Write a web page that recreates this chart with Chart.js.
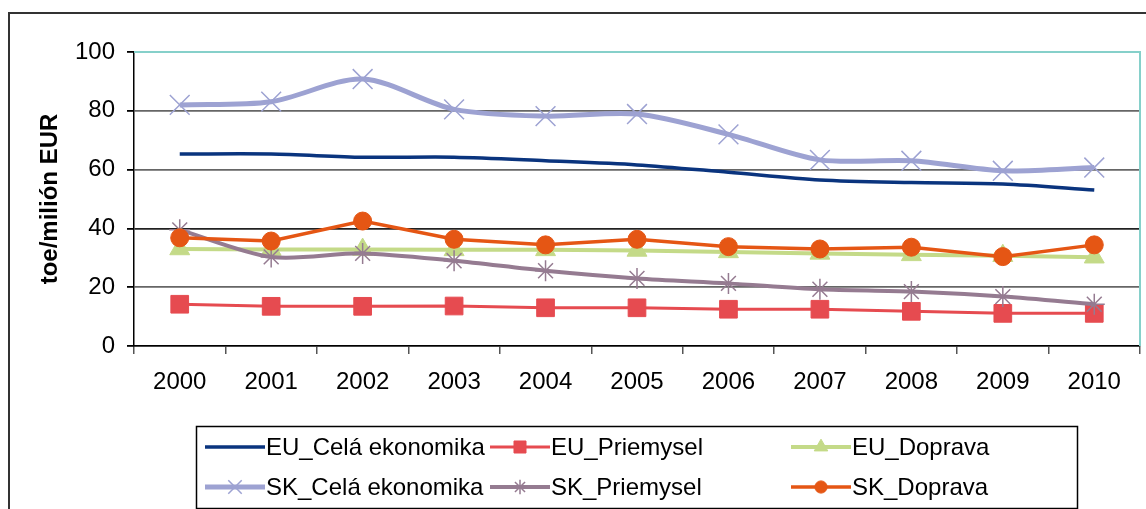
<!DOCTYPE html>
<html>
<head>
<meta charset="utf-8">
<script src="https://cdn.jsdelivr.net/npm/chart.js@4/dist/chart.umd.min.js"></script>
<style>
  html, body { margin: 0; padding: 0; background: #fff; }
  #wrap { position: relative; width: 1146px; height: 509px; }
</style>
</head>
<body>
<div id="wrap"><canvas id="c" width="1146" height="509"></canvas></div>
<script>
// Energy intensity, toe per million EUR
const years = ['2000', '2001', '2002', '2003', '2004', '2005', '2006', '2007', '2008', '2009', '2010'];
const euCela      = [65.3, 65.3, 64.2, 64.2, 63.0, 61.6, 59.1, 56.5, 55.6, 55.1, 53.1];
const euPriemysel = [14.2, 13.5, 13.5, 13.6, 13.0, 13.0, 12.5, 12.5, 11.8, 11.1, 11.1];
const euDoprava   = [33.0, 32.8, 32.8, 32.7, 32.7, 32.5, 32.0, 31.5, 31.0, 30.7, 30.2];
const skCela      = [82.0, 83.1, 90.8, 80.5, 78.2, 78.9, 72.0, 63.3, 63.0, 59.6, 60.7];
const skPriemysel = [39.5, 30.3, 31.5, 29.0, 25.6, 23.0, 21.3, 19.3, 18.5, 16.8, 14.2];
const skDoprava   = [36.8, 35.7, 42.5, 36.3, 34.4, 36.3, 33.8, 33.0, 33.6, 30.4, 34.4];
const yMin = 0, yMax = 100, yStep = 20;
const yTitle = 'toe/milión EUR';

const FONT = '"Liberation Sans", Arial, sans-serif';
const TEAL = '#86d0ca';

// frame around the whole chart, teal plot border
const framePlugin = {
  id: 'frame',
  beforeDraw(chart) {
    const ctx = chart.ctx;
    ctx.save();
    ctx.fillStyle = '#fff';
    ctx.fillRect(0, 0, chart.width, chart.height);
    ctx.strokeStyle = '#333';
    ctx.lineWidth = 2;
    ctx.beginPath();
    ctx.moveTo(9, chart.height);
    ctx.lineTo(9, 13);
    ctx.lineTo(chart.width, 13);
    ctx.stroke();
    ctx.restore();
  },
  beforeDatasetsDraw(chart) {
    const a = chart.chartArea;
    const ctx = chart.ctx;
    ctx.save();
    ctx.strokeStyle = TEAL;
    ctx.lineWidth = 2;
    ctx.beginPath();
    ctx.moveTo(a.left, a.top);
    ctx.lineTo(a.right, a.top);
    ctx.lineTo(a.right, a.bottom);
    ctx.stroke();
    ctx.restore();
  }
};

// boxed legend: two rows, three columns
const legendPlugin = {
  id: 'boxLegend',
  afterDraw(chart) {
    const ctx = chart.ctx;
    const cols = [205, 490, 791];
    const rows = [447, 487];
    const sampleLen = 60;
    ctx.save();
    ctx.strokeStyle = '#000';
    ctx.lineWidth = 1.5;
    ctx.strokeRect(196.5, 426.5, 881, 82);
    ctx.font = '24px ' + FONT;
    ctx.textBaseline = 'middle';
    ctx.textAlign = 'left';
    chart.data.datasets.forEach((ds, i) => {
      const x = cols[i % 3];
      const y = rows[Math.floor(i / 3)];
      ctx.strokeStyle = ds.borderColor;
      ctx.lineWidth = ds.borderWidth;
      ctx.beginPath();
      ctx.moveTo(x, y);
      ctx.lineTo(x + sampleLen, y);
      ctx.stroke();
      if (ds.pointRadius > 0) {
        ctx.fillStyle = ds.pointBackgroundColor;
        ctx.strokeStyle = ds.pointBorderColor;
        ctx.lineWidth = ds.pointBorderWidth;
        Chart.helpers.drawPoint(ctx, {
          pointStyle: ds.pointStyle,
          rotation: 0,
          radius: ds.pointRadius * 0.68,
          borderWidth: ds.pointBorderWidth
        }, x + sampleLen / 2, y);
      }
      ctx.fillStyle = '#000';
      ctx.fillText(ds.label, x + sampleLen + 1, y + 1);
    });
    ctx.restore();
  }
};

const mk = (label, data, color, width, style, radius, order, tension, bw) => ({
  label, data,
  borderColor: color,
  backgroundColor: color,
  borderWidth: width,
  pointStyle: style,
  pointRadius: radius,
  pointHoverRadius: radius,
  pointBackgroundColor: color,
  pointBorderColor: color,
  pointBorderWidth: bw,
  tension: tension,
  order: order,
  fill: false
});

new Chart(document.getElementById('c'), {
  type: 'line',
  data: {
    labels: years,
    datasets: [
      mk('EU_Celá ekonomika', euCela, '#0a347e', 3.5, 'circle', 0, 6, 0.3, 0),
      mk('EU_Priemysel', euPriemysel, '#e64b50', 3, 'rect', 12.5, 5, 0, 1),
      mk('EU_Doprava', euDoprava, '#c4da88', 4, 'triangle', 11.5, 4, 0, 1),
      mk('SK_Celá ekonomika', skCela, '#9da2d2', 5, 'crossRot', 14, 3, 0.3, 1.5),
      mk('SK_Priemysel', skPriemysel, '#957b91', 4, 'star', 10.5, 2, 0.3, 1.5),
      mk('SK_Doprava', skDoprava, '#e55614', 3.5, 'circle', 9, 1, 0, 1)
    ]
  },
  options: {
    responsive: false,
    animation: false,
    devicePixelRatio: 1,
    layout: { autoPadding: false, padding: { left: 0, top: 52, right: 6, bottom: 0 } },
    plugins: {
      legend: { display: false },
      tooltip: { enabled: false },
      title: { display: false }
    },
    scales: {
      x: {
        type: 'category',
        offset: true,
        afterFit(s) { s.height = 163; s.paddingLeft = 0; s.paddingRight = 0; },
        grid: {
          offset: true,
          drawOnChartArea: false,
          drawTicks: true,
          tickLength: 8,
          tickColor: '#555',
          lineWidth: 1.5
        },
        border: { display: true, color: '#000', width: 1.5 },
        ticks: {
          color: '#000',
          font: { family: FONT, size: 24 },
          padding: 14,
          maxRotation: 0,
          autoSkip: false
        }
      },
      y: {
        min: yMin,
        max: yMax,
        afterFit(s) { s.width = 134; s.paddingTop = 0; s.paddingBottom = 0; },
        grid: {
          color: (c) => (c.tick && c.tick.value === yMax) ? 'rgba(0,0,0,0)' : (c.tick && c.tick.value === 40 ? '#222' : '#666'),
          lineWidth: 1.8,
          drawTicks: true,
          tickLength: 7,
          tickColor: '#000'
        },
        border: { display: true, color: '#000', width: 1.5 },
        ticks: {
          stepSize: yStep,
          color: '#000',
          font: { family: FONT, size: 24 },
          padding: 12
        },
        title: {
          display: true,
          text: yTitle,
          color: '#000',
          font: { family: FONT, size: 24, weight: 'bold' },
          padding: { top: 36, bottom: 0 }
        }
      }
    }
  },
  plugins: [framePlugin, legendPlugin]
});
</script>
</body>
</html>
